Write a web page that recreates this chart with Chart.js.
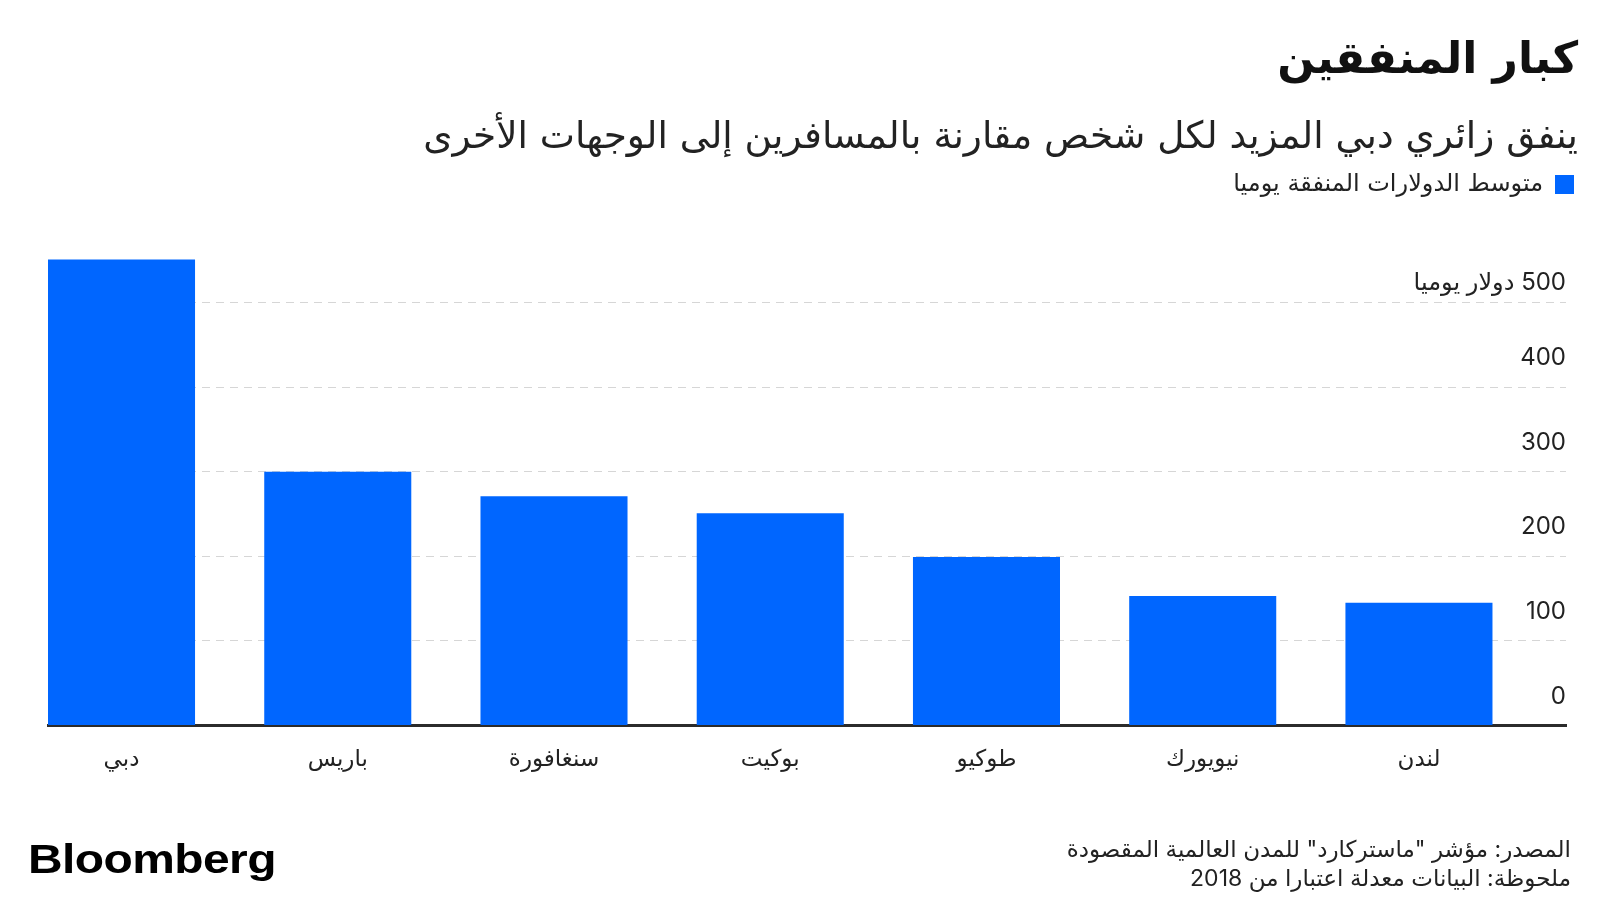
<!DOCTYPE html>
<html lang="ar">
<head>
<meta charset="utf-8">
<script src="https://cdn.jsdelivr.net/npm/chart.js@4.4.1/dist/chart.umd.min.js"></script>
<style>
  html, body { margin: 0; padding: 0; background: #ffffff; }
  #wrap { position: relative; width: 1600px; height: 900px; overflow: hidden; }
  #c { position: absolute; left: 0; top: 0; }
  .txt { position: absolute; direction: rtl; text-align: right; color: #111; white-space: nowrap; }
  #title { right: 22px; top: 30px; font: bold 44px 'DejaVu Sans', sans-serif; line-height: 56px; }
  #subtitle { right: 22px; top: 111px; font: 37.4px 'DejaVu Sans', sans-serif; line-height: 48px; color: #222; }
  #foot { right: 29px; top: 835px; font: 23px Inter, 'DejaVu Sans', sans-serif; line-height: 29px; color: #222; }
  #logo { position: absolute; left: 28px; top: 836px; font: bold 41px 'Liberation Sans', Arial, sans-serif; letter-spacing: -0.5px; color: #000; transform: scaleX(1.17); transform-origin: left top; }
</style>
</head>
<body>
<div id="wrap">
  <canvas id="c" width="1600" height="900"></canvas>
  <div id="title" class="txt">كبار المنفقين</div>
  <div id="subtitle" class="txt">ينفق زائري دبي المزيد لكل شخص مقارنة بالمسافرين إلى الوجهات الأخرى</div>
  <div id="foot" class="txt">المصدر: مؤشر "ماستركارد" للمدن العالمية المقصودة<br>ملحوظة: البيانات معدلة اعتبارا من 2018</div>
  <div id="logo">Bloomberg</div>
</div>
<script>
// ---- data ----
const categories = ['دبي', 'باريس', 'سنغافورة', 'بوكيت', 'طوكيو', 'نيويورك', 'لندن'];
const spending = [551, 300, 271, 251, 199, 153, 145];
const tickValues = [0, 100, 200, 300, 400, 500];
const tickLabels = ['0', '100', '200', '300', '400', '\u202B500 دولار يوميا\u202C'];
const seriesName = 'متوسط الدولارات المنفقة يوميا';

const barColor = '#0066ff';
const topTick = tickValues[tickValues.length - 1];

// legend: extra space below it, and nudge it to line up with the title's right edge
const legendTweak = {
  id: 'legendTweak',
  afterInit(chart) {
    const lg = chart.legend;
    const origFit = lg.fit.bind(lg);
    lg.fit = function () { origFit(); this.height += 11.5; };
    const origDraw = lg.draw.bind(lg);
    lg.draw = function () {
      const c = this.ctx;
      c.save();
      c.translate(18, 0);
      origDraw();
      c.restore();
    };
  }
};

const ctx = document.getElementById('c').getContext('2d');
new Chart(ctx, {
  type: 'bar',
  data: {
    datasets: [{
      label: seriesName,
      data: spending.map((v, i) => ({ x: i, y: v })),
      backgroundColor: barColor,
      borderWidth: 0,
      categoryPercentage: 1,
      barPercentage: 0.68
    }]
  },
  plugins: [legendTweak],
  options: {
    responsive: false,
    animation: false,
    events: [],
    layout: { padding: { left: 48, right: 34, top: 162.5, bottom: 105 } },
    plugins: {
      tooltip: { enabled: false },
      title: { display: false },
      legend: {
        display: true,
        position: 'top',
        align: 'start',
        rtl: true,
        textDirection: 'rtl',
        labels: {
          boxWidth: 19,
          boxHeight: 19,
          padding: 10,
          color: '#222',
          font: { family: "'DejaVu Sans', sans-serif", size: 24 }
        }
      }
    },
    scales: {
      x: {
        type: 'linear',
        offset: false,
        min: -0.34,
        max: 6.68,
        z: 1,
        afterBuildTicks: (axis) => { axis.ticks = categories.map((c, i) => ({ value: i })); },
        grid: { display: false, drawTicks: false },
        border: { display: true, color: '#2b2b2b', width: 3 },
        ticks: {
          autoSkip: false,
          maxRotation: 0,
          padding: 21,
          color: '#222',
          font: { family: "'DejaVu Sans', sans-serif", size: 23 },
          callback: (v) => categories[v]
        }
      },
      y: {
        position: 'right',
        min: 0,
        max: 600,
        afterBuildTicks: (axis) => { axis.ticks = tickValues.map(v => ({ value: v })); },
        grid: { color: '#d6d6d6', lineWidth: 1, drawTicks: false },
        border: { display: false, dash: [8, 6] },
        ticks: {
          mirror: true,
          padding: 0,
          labelOffset: -29,
          color: '#222',
          font: (c) => (c.tick && c.tick.value === topTick)
            ? { family: "Inter, 'DejaVu Sans', sans-serif", size: 24, lineHeight: '18px' }
            : { family: "Inter, 'DejaVu Sans', sans-serif", size: 24 },
          callback: (v) => {
            const label = tickLabels[tickValues.indexOf(v)];
            return v === topTick ? ['', label] : label;
          }
        }
      }
    }
  }
});
</script>
</body>
</html>
